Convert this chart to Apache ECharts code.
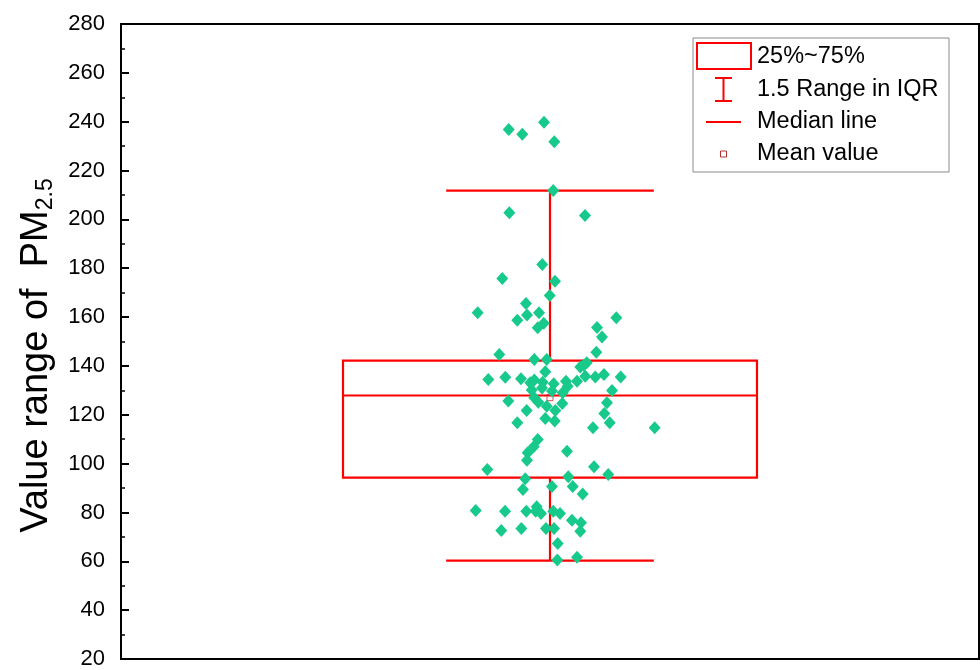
<!DOCTYPE html>
<html>
<head>
<meta charset="utf-8">
<script src="https://cdn.jsdelivr.net/npm/echarts@6/dist/echarts.min.js"></script>
<style>html,body{margin:0;padding:0;background:#fff}#c{width:980px;height:670px}</style>
</head>
<body>
<div id="c"></div>
<script>
// ---- data ----
const yMin = 20, yMax = 280, yInterval = 20;
const jitter = [-4.81,-3.23,-0.70,0.50,0.38,-4.74,4.08,-0.90,-5.56,0.58,-0.03,-8.43,-2.80,-2.68,-1.28,-3.81,-0.73,-1.43,7.73,5.48,6.06,-5.91,5.40,-1.83,-0.38,-0.55,3.53,4.28,3.93,-7.19,-5.21,-3.38,-2.30,-1.83,-0.85,0.43,1.86,2.06,3.15,4.11,5.28,6.29,8.24,-2.13,-0.93,0.23,1.48,7.23,-1.83,-1.36,-4.86,-0.38,1.43,6.64,-2.72,0.62,6.33,-0.55,0.55,-3.81,6.96,5.01,12.2,-1.43,-1.90,-2.60,1.98,-2.68,-7.31,5.13,6.79,-2.88,2.13,0.23,2.65,-3.15,3.81,-8.66,-5.24,-2.76,-1.55,-1.67,-1.05,0.38,1.17,2.56,3.61,-5.68,-3.34,-0.47,0.47,3.53,0.90,0.85,3.15];
const pm25 = [236.8,234.9,239.8,231.8,211.8,202.7,201.6,181.5,175.8,174.7,168.8,161.8,165.6,160.8,161.8,158.7,157.5,155.6,159.7,155.7,151.8,144.7,145.6,142.6,142.6,137.6,139.6,141.3,140.3,134.4,135.4,134.7,133.1,134.2,133.3,132.7,133.7,131.7,133.7,135.8,135.5,136.5,135.5,130.1,131.0,129.7,129.0,129.9,127.0,125.1,125.6,123.5,124.6,124.9,121.7,121.7,120.5,118.5,117.4,116.7,116.7,114.7,114.7,109.9,106.9,104.4,105.1,101.4,97.6,98.7,95.5,93.8,94.6,90.6,90.6,89.4,87.6,80.8,80.5,80.5,82.3,80.5,79.6,80.5,79.6,76.8,75.8,72.6,73.4,73.4,73.4,72.3,67.3,60.5,61.7];
// box stats: [lower whisker, Q1, median, Q3, upper whisker]
const boxStats = [60.3, 94.3, 127.9, 142.2, 211.8];
const meanValue = 127;
const legendLabels = ['25%~75%', '1.5 Range in IQR', 'Median line', 'Mean value'];

const RED = '#ff0000';
const GREEN = '#17c98b';
const FONT = '"Liberation Sans", Arial, sans-serif';

const chart = echarts.init(document.getElementById('c'), null, {renderer: 'canvas'});

const boxWidth = 48.25, capWidth = 24.2;

function renderBox(params, api) {
  const cx = api.value(0);
  const lo = api.coord([cx, api.value(1)]);
  const q1 = api.coord([cx, api.value(2)]);
  const md = api.coord([cx, api.value(3)]);
  const q3 = api.coord([cx, api.value(4)]);
  const hi = api.coord([cx, api.value(5)]);
  const bw = api.size([boxWidth, 0])[0];
  const cw = api.size([capWidth, 0])[0];
  const st = {stroke: RED, lineWidth: 2.2, fill: null};
  const x = lo[0];
  return {
    type: 'group',
    children: [
      {type: 'line', shape: {x1: x, y1: hi[1], x2: x, y2: q3[1]}, style: st},
      {type: 'line', shape: {x1: x, y1: q1[1], x2: x, y2: lo[1]}, style: st},
      {type: 'line', shape: {x1: x - cw / 2, y1: hi[1], x2: x + cw / 2, y2: hi[1]}, style: st},
      {type: 'line', shape: {x1: x - cw / 2, y1: lo[1], x2: x + cw / 2, y2: lo[1]}, style: st},
      {type: 'rect', shape: {x: x - bw / 2, y: q3[1], width: bw, height: q1[1] - q3[1]}, style: st},
      {type: 'line', shape: {x1: x - bw / 2, y1: md[1], x2: x + bw / 2, y2: md[1]}, style: st}
    ]
  };
}

const rowY = [57, 90, 122, 154];
const legendGraphic = [
  {type: 'rect', shape: {x: 693, y: 38, width: 256, height: 134}, style: {fill: '#fff', stroke: '#8a8a8a', lineWidth: 1}, z: 100},
  {type: 'rect', shape: {x: 697, y: 43, width: 54, height: 26}, style: {fill: null, stroke: RED, lineWidth: 2}, z: 101},
  {type: 'line', shape: {x1: 723.5, y1: 78, x2: 723.5, y2: 101}, style: {stroke: RED, lineWidth: 2}, z: 101},
  {type: 'line', shape: {x1: 715, y1: 78, x2: 732, y2: 78}, style: {stroke: RED, lineWidth: 2}, z: 101},
  {type: 'line', shape: {x1: 715, y1: 101, x2: 732, y2: 101}, style: {stroke: RED, lineWidth: 2}, z: 101},
  {type: 'line', shape: {x1: 706, y1: 122, x2: 741, y2: 122}, style: {stroke: RED, lineWidth: 2}, z: 101},
  {type: 'rect', shape: {x: 720.5, y: 151, width: 6, height: 6}, style: {fill: '#fff', stroke: '#b03030', lineWidth: 1}, z: 101}
].concat(legendLabels.map((t, i) => ({
  type: 'text', x: 757, y: rowY[i], z: 101,
  style: {text: t, fill: '#000', font: '23.5px ' + FONT, textVerticalAlign: 'middle', textAlign: 'left'}
})));

chart.setOption({
  animation: false,
  backgroundColor: '#fff',
  grid: {left: 121, right: 1, top: 24, bottom: 10, show: true, borderColor: '#000', borderWidth: 2, backgroundColor: 'transparent'},
  xAxis: {
    type: 'value', min: -50, max: 50,
    axisLine: {show: true, onZero: false, lineStyle: {color: '#000', width: 2}},
    axisTick: {show: false}, axisLabel: {show: false}, splitLine: {show: false}
  },
  yAxis: {
    type: 'value', min: yMin, max: yMax, interval: yInterval,
    name: '{a|Value range of  PM}{s|2.5}',
    nameLocation: 'middle', nameRotate: 90, nameGap: 57,
    nameTextStyle: {
      padding: [0, 28, 0, 0],
      rich: {
        a: {fontSize: 38, fontFamily: FONT, color: '#000', lineHeight: 42, verticalAlign: 'middle'},
        s: {fontSize: 23, fontFamily: FONT, color: '#000', lineHeight: 23, verticalAlign: 'bottom', padding: [17, 0, 0, 0]}
      }
    },
    axisLine: {show: true, onZero: false, lineStyle: {color: '#000', width: 2}},
    axisTick: {show: true, inside: true, length: 8, lineStyle: {color: '#000', width: 2}},
    minorTick: {show: true, splitNumber: 2, length: 4, lineStyle: {color: '#000', width: 1.5}},
    axisLabel: {color: '#000', fontSize: 22, fontFamily: FONT, margin: 16},
    splitLine: {show: false}, minorSplitLine: {show: false}
  },
  series: [
    {
      type: 'custom', name: 'box', renderItem: renderBox,
      data: [[0].concat(boxStats)], z: 2, silent: true
    },
    {
      type: 'scatter', name: 'mean', data: [[0, meanValue]],
      symbol: 'rect', symbolSize: 6,
      itemStyle: {color: 'rgba(255,255,255,0)', borderColor: '#b03030', borderWidth: 1}, z: 3
    },
    {
      type: 'scatter', name: 'PM2.5',
      data: pm25.map((v, i) => [jitter[i], v]),
      symbol: 'diamond', symbolSize: [12, 13],
      itemStyle: {color: GREEN, opacity: 1}, z: 4
    }
  ],
  graphic: legendGraphic
});
</script>
</body>
</html>
